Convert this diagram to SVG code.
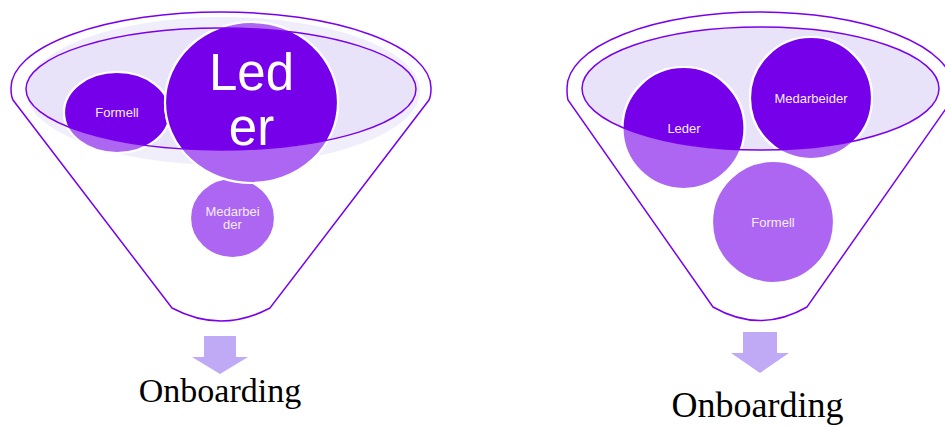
<svg xmlns="http://www.w3.org/2000/svg" width="945" height="427" viewBox="0 0 945 427">
<style>
.outline{fill:#ffffff;stroke:#7a00ec;stroke-width:1.5}
.bowl{fill:#e9e3fa;stroke:none}
.rim{fill:none;stroke:#7a00ec;stroke-width:1.5}
.glow{fill:#f1eefc}
.light{fill:#ad66f2;stroke:#ffffff;stroke-width:2.2}
.dark{fill:#7600ea;stroke:#ffffff;stroke-width:2.2}
.lbl{font-family:"Liberation Sans",Arial,sans-serif;font-size:13px;fill:#f3ecfd;text-anchor:middle}
.big{font-family:"Liberation Sans",Arial,sans-serif;font-size:51px;fill:#ffffff;text-anchor:middle}
.arrow{fill:#c0a9f5}
.cap{font-family:"Liberation Serif","Times New Roman",serif;fill:#000000;text-anchor:middle}
</style>
<defs>
<clipPath id="clipL"><ellipse cx="221" cy="89" rx="195" ry="61"/></clipPath>
<clipPath id="clipR"><ellipse cx="760.5" cy="88.5" rx="178.5" ry="61.5"/></clipPath>
</defs>

<g id="funnel-left">
<path class="outline" d="M172,308 L13,100 Q11,96 11,88 A210,76 0 0 1 431,88 Q431,96 429,100 L270,308 Q221,334 172,308 Z"/>
<ellipse class="glow" cx="223" cy="91" rx="197" ry="74"/>
<ellipse class="bowl" cx="221" cy="89" rx="195" ry="61"/>
</g>

<g id="node-left-formell">
<ellipse class="light" cx="117" cy="112.5" rx="53" ry="40.5"/>
<ellipse class="dark" cx="117" cy="112.5" rx="53" ry="40.5" clip-path="url(#clipL)"/>
<text class="lbl" x="117" y="117">Formell</text>
</g>

<g id="node-left-medarbeider">
<ellipse class="light" cx="232.5" cy="218" rx="42.5" ry="40"/>
<text class="lbl" x="232.5" y="215.5">Medarbei</text>
<text class="lbl" x="232.5" y="229">der</text>
</g>

<g id="node-left-leder">
<ellipse class="light" cx="251.5" cy="102.5" rx="86.5" ry="80.5"/>
<ellipse class="dark" cx="251.5" cy="102.5" rx="86.5" ry="80.5" clip-path="url(#clipL)"/>
<text class="big" x="251.5" y="90">Led</text>
<text class="big" x="251.5" y="145">er</text>
</g>

<ellipse class="rim" cx="221" cy="89" rx="195" ry="61"/>

<g id="funnel-right">
<path class="outline" d="M713,307 L568,100 Q567,96 567,88 A193,76 0 0 1 953,88 Q953,96 952,100 L807,307 Q760,334 713,307 Z"/>
<ellipse class="bowl" cx="760.5" cy="88.5" rx="178.5" ry="61.5"/>
</g>

<g id="node-right-leder">
<circle class="light" cx="683.5" cy="128" r="61"/>
<circle class="dark" cx="683.5" cy="128" r="61" clip-path="url(#clipR)"/>
<text class="lbl" x="684" y="133">Leder</text>
</g>

<g id="node-right-medarbeider">
<circle class="light" cx="811" cy="98" r="61"/>
<circle class="dark" cx="811" cy="98" r="61" clip-path="url(#clipR)"/>
<text class="lbl" x="811" y="103">Medarbeider</text>
</g>

<g id="node-right-formell">
<circle class="light" cx="773" cy="222" r="61"/>
<text class="lbl" x="773" y="227">Formell</text>
</g>

<ellipse class="rim" cx="760.5" cy="88.5" rx="178.5" ry="61.5"/>

<g id="connectors">
<path class="arrow" d="M204,336 L236,336 L236,357 L248,357 L220,374 L192,357 L204,357 Z"/>
<path class="arrow" d="M743,332 L777,332 L777,353 L789,353 L760,373 L731,353 L743,353 Z"/>
</g>

<g id="label-left-onboarding">
<text class="cap" x="220" y="402" font-size="34">Onboarding</text>
</g>
<g id="label-right-onboarding">
<text class="cap" x="757.5" y="417" font-size="36">Onboarding</text>
</g>
</svg>
